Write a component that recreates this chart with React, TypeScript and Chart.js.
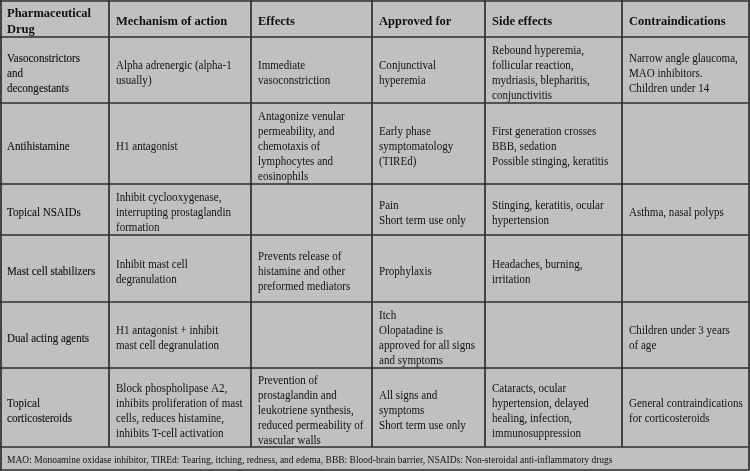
import React, { useEffect, useRef } from "react";
import { Chart, registerables } from "chart.js";

Chart.register(...registerables);

// ---- Table content (data) ----
const headers: string[][] = [
  ["Pharmaceutical", "Drug"],
  ["Mechanism of action"],
  ["Effects"],
  ["Approved for"],
  ["Side effects"],
  ["Contraindications"],
];

const drugs: string[][] = [
  ["Vasoconstrictors", "and", "decongestants"],
  ["Antihistamine"],
  ["Topical NSAIDs"],
  ["Mast cell stabilizers"],
  ["Dual acting agents"],
  ["Topical", "corticosteroids"],
];

const mechanisms: string[][] = [
  ["Alpha adrenergic (alpha-1", "usually)"],
  ["H1 antagonist"],
  ["Inhibit cyclooxygenase,", "interrupting prostaglandin", "formation"],
  ["Inhibit mast cell", "degranulation"],
  ["H1 antagonist + inhibit", "mast cell degranulation"],
  ["Block phospholipase A2,", "inhibits proliferation of mast", "cells, reduces histamine,", "inhibits T-cell activation"],
];

const effects: string[][] = [
  ["Immediate", "vasoconstriction"],
  ["Antagonize venular", "permeability, and", "chemotaxis of", "lymphocytes and", "eosinophils"],
  [],
  ["Prevents release of", "histamine and other", "preformed mediators"],
  [],
  ["Prevention of", "prostaglandin and", "leukotriene synthesis,", "reduced permeability of", "vascular walls"],
];

const approvedFor: string[][] = [
  ["Conjunctival", "hyperemia"],
  ["Early phase", "symptomatology", "(TIREd)"],
  ["Pain", "Short term use only"],
  ["Prophylaxis"],
  ["Itch", "Olopatadine is", "approved for all signs", "and symptoms"],
  ["All signs and", "symptoms", "Short term use only"],
];

const sideEffects: string[][] = [
  ["Rebound hyperemia,", "follicular reaction,", "mydriasis, blepharitis,", "conjunctivitis"],
  ["First generation crosses", "BBB, sedation", "Possible stinging, keratitis"],
  ["Stinging, keratitis, ocular", "hypertension"],
  ["Headaches, burning,", "irritation"],
  [],
  ["Cataracts, ocular", "hypertension, delayed", "healing, infection,", "immunosuppression"],
];

const contraindications: string[][] = [
  ["Narrow angle glaucoma,", "MAO inhibitors.", "Children under 14"],
  [],
  ["Asthma, nasal polyps"],
  [],
  ["Children under 3 years", "of age"],
  ["General contraindications", "for corticosteroids"],
];

const footnote =
  "MAO: Monoamine oxidase inhibitor, TIREd: Tearing, itching, redness, and edema, BBB: Blood-brain barrier, NSAIDs: Non-steroidal anti-inflammatory drugs";

// ---- Layout (table units on the chart's linear scales) ----
const colEdges = [0, 109, 251, 372, 485, 622, 749];
const rowEdges = [0, 37, 103, 184, 235, 302, 368, 447, 470];
const W = 750;
const H = 471;

const FONT = '"Liberation Serif", "Times New Roman", serif';

const tablePlugin = {
  id: "tablePlugin",
  afterDraw(chart: any) {
    const ctx: CanvasRenderingContext2D = chart.ctx;
    const xs = chart.scales.x;
    const ys = chart.scales.y;
    const px = (v: number) => xs.getPixelForValue(v);
    const py = (v: number) => ys.getPixelForValue(v);

    const columns = [drugs, mechanisms, effects, approvedFor, sideEffects, contraindications];

    ctx.save();
    ctx.fillStyle = "#c0c0c0";
    ctx.fillRect(px(0), py(0), px(W) - px(0), py(H) - py(0));

    ctx.strokeStyle = "#2e2e2e";
    ctx.lineWidth = 1.7;
    const top = rowEdges[0];
    const bodyBottom = rowEdges[rowEdges.length - 2];
    const bottom = rowEdges[rowEdges.length - 1];
    colEdges.forEach((c, i) => {
      const isOuter = i === 0 || i === colEdges.length - 1;
      ctx.beginPath();
      ctx.moveTo(px(c) + (i === 0 ? 1 : 0), py(top));
      ctx.lineTo(px(c) + (i === 0 ? 1 : 0), py(isOuter ? bottom : bodyBottom));
      ctx.stroke();
    });
    rowEdges.forEach((r, i) => {
      const y = py(r) + (i === 0 ? 1 : 0);
      ctx.beginPath();
      ctx.moveTo(px(colEdges[0]), y);
      ctx.lineTo(px(colEdges[colEdges.length - 1]), y);
      ctx.stroke();
    });

    ctx.textBaseline = "middle";
    ctx.textAlign = "left";
    ctx.fillStyle = "#111111";
    ctx.strokeStyle = "#111111";

    const drawCell = (
      lines: string[],
      c: number,
      r: number,
      font: string,
      lh: number,
      sx: number,
      heavy: number
    ) => {
      if (!lines.length) return;
      ctx.font = font;
      const x0 = px(colEdges[c]) + 7;
      const cy = (py(rowEdges[r]) + py(rowEdges[r + 1])) / 2 + 3.5;
      const start = cy - ((lines.length - 1) * lh) / 2;
      lines.forEach((ln, k) => {
        ctx.save();
        ctx.translate(x0, start + k * lh);
        ctx.scale(sx, 1);
        ctx.fillText(ln, 0, 0);
        if (heavy > 0) {
          ctx.lineWidth = heavy;
          ctx.strokeText(ln, 0, 0);
        }
        ctx.restore();
      });
    };

    headers.forEach((h, c) => drawCell(h, c, 0, `bold 12.5px ${FONT}`, 16, 1, 0));
    columns.forEach((col, c) => {
      col.forEach((cell, r) => {
        drawCell(cell, c, r + 1, `12px ${FONT}`, 15, 0.92, c === 0 ? 0.12 : 0);
      });
    });

    // footnote
    ctx.font = `10.5px ${FONT}`;
    const fy = (py(rowEdges[7]) + py(rowEdges[8])) / 2 + 2;
    ctx.save();
    ctx.translate(px(0) + 7, fy);
    ctx.scale(0.905, 1);
    ctx.fillText(footnote, 0, 0);
    ctx.restore();
    ctx.restore();
  },
};

export default function App() {
  const ref = useRef<HTMLCanvasElement | null>(null);

  useEffect(() => {
    document.body.style.margin = "0";
    const canvas = ref.current;
    if (!canvas) return;
    const chart = new Chart(canvas, {
      type: "scatter",
      data: { datasets: [{ data: [], label: "table" }] },
      options: {
        animation: false,
        responsive: false,
        devicePixelRatio: 1,
        layout: { padding: 0 },
        plugins: { legend: { display: false }, tooltip: { enabled: false } },
        scales: {
          x: { type: "linear", min: 0, max: W, display: false },
          y: { type: "linear", min: 0, max: H, reverse: true, display: false },
        },
      },
      plugins: [tablePlugin],
    });
    return () => chart.destroy();
  }, []);

  return (
    <div style={{ width: W, height: H, background: "#ffffff" }}>
      <canvas ref={ref} width={W} height={H} style={{ display: "block" }} />
    </div>
  );
}
